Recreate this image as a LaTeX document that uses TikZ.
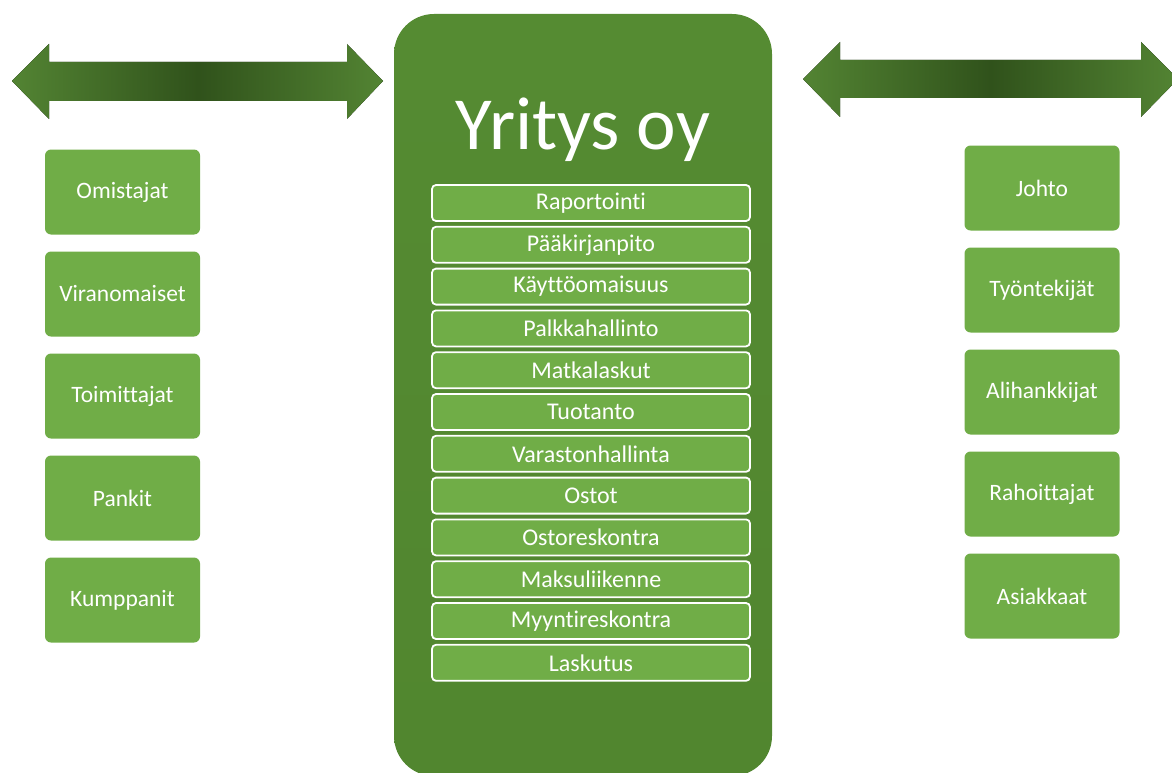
\documentclass[tikz,border=0pt]{standalone}
\usepackage{fontspec}
\setmainfont{Carlito}[Ligatures={NoCommon}]
\usepackage{xcolor}
\usepackage{tikz}
\usetikzlibrary{positioning}

\definecolor{leafgreen}{HTML}{70AD47}
\definecolor{firmtop}{HTML}{558B32}
\definecolor{firmmid}{HTML}{426E27}
\definecolor{firmbot}{HTML}{51862F}
\definecolor{flowend}{HTML}{538433}
\definecolor{flowmid}{HTML}{30521B}

\begin{document}
\begin{tikzpicture}[
  x=1pt, y=-1pt,
  party/.style={rectangle, rounded corners=6pt, fill=leafgreen, text=white,
                minimum width=155pt, minimum height=85pt,
                font=\fontsize{23.5}{27}\selectfont},
  task/.style={rectangle, rounded corners=4pt, draw=white, line width=1.8pt,
               fill=leafgreen, text=white, minimum width=318pt,
               minimum height=36pt, inner sep=0pt,
               font=\fontsize{24}{27}\selectfont},
  firmbox/.style={rectangle, rounded corners=40pt, minimum width=378pt,
                  minimum height=762pt, top color=firmtop,
                  middle color=firmmid, bottom color=firmbot},
  flow/.style={left color=flowend, right color=flowend, middle color=flowmid},
  ]
  \useasboundingbox (0,0) rectangle (1172,773);

  %% Company block with its title
  \node[firmbox] (firm) at (583, 395) {};
  \node[text=white, font=\fontsize{75}{78}\selectfont] (title) at (583, 130)
        {Yritys oy};

  %% Functions inside the company
  \foreach \name [count=\i] in {Raportointi, Pääkirjanpito, Käyttöomaisuus,
      Palkkahallinto, Matkalaskut, Tuotanto, Varastonhallinta, Ostot,
      Ostoreskontra, Maksuliikenne, Myyntireskontra, Laskutus}
    \node[task] (task\i) at (591, {203 + (\i-1)*41.8}) {\name};

  %% External parties (left)
  \foreach \name [count=\i] in {Omistajat, Viranomaiset, Toimittajat,
      Pankit, Kumppanit}
    \node[party] (ext\i) at (122.5, {192 + (\i-1)*102}) {\name};

  %% Internal parties (right)
  \foreach \name [count=\i] in {Johto, Työntekijät, Alihankkijat,
      Rahoittajat, Asiakkaat}
    \node[party] (int\i) at (1042, {188 + (\i-1)*102}) {\name};

  %% Two-way arrows
  \fill[flow] (12,81) -- (49,44) -- (49,62) -- (347,62) -- (347,44)
    -- (383,81) -- (347,119) -- (347,101) -- (49,101) -- (49,119) -- cycle;
  \fill[flow] (803,79) -- (840,42) -- (840,60) -- (1141,60) -- (1141,42)
    -- (1178,79) -- (1141,117) -- (1141,98) -- (840,98) -- (840,117) -- cycle;
\end{tikzpicture}
\end{document}
